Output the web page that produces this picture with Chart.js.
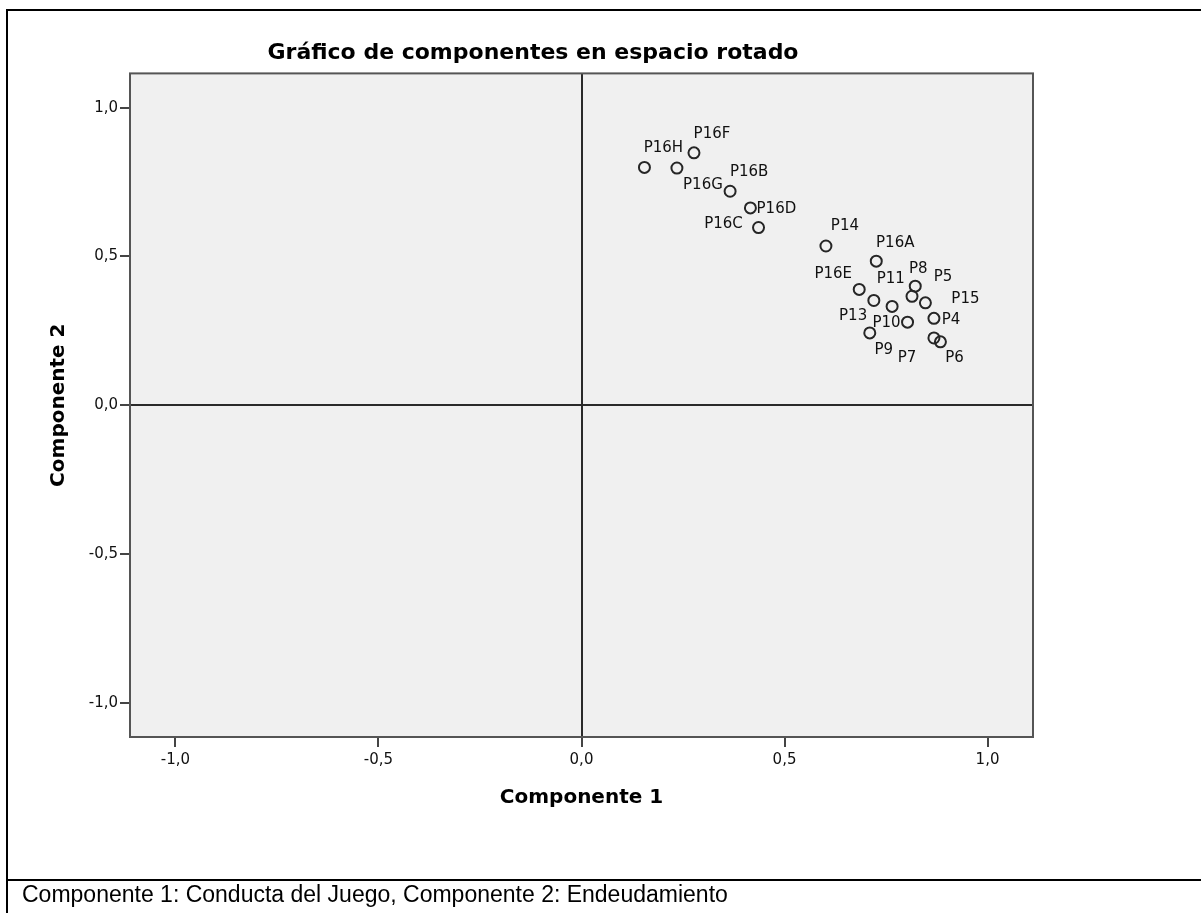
<!DOCTYPE html>
<html>
<head>
<meta charset="utf-8">
<script src="https://cdn.jsdelivr.net/npm/chart.js@4"></script>
<style>
  body { margin: 0; background: #fff; }
  #wrap { position: absolute; left: 0; top: 0; width: 1201px; height: 913px; }
  #frame { position: absolute; left: 6px; top: 9px; width: 1201px; height: 913px;
           border-left: 2px solid #000; border-top: 2px solid #000; pointer-events: none; }
  #rule { position: absolute; left: 6px; top: 879px; width: 1201px; height: 2px; background: #000; }
  #note { position: absolute; left: 22px; top: 883px; font-family: "Liberation Sans", Arial, sans-serif;
          font-size: 23px; line-height: 23px; color: #000; white-space: nowrap; }
</style>
</head>
<body>
<div id="wrap"><canvas id="componentChart"></canvas></div>
<div id="frame"></div>
<div id="rule"></div>
<div id="note">Componente 1: Conducta del Juego, Componente 2: Endeudamiento</div>
<script>
const names = ['P16H', 'P16G', 'P16F', 'P16B', 'P16D', 'P16C', 'P14', 'P16A', 'P16E', 'P11',
               'P8', 'P5', 'P15', 'P4', 'P13', 'P10', 'P9', 'P7', 'P6'];
const comp1 = [0.155, 0.235, 0.277, 0.366, 0.416, 0.436, 0.602, 0.726, 0.684, 0.720,
               0.822, 0.814, 0.847, 0.868, 0.765, 0.803, 0.710, 0.868, 0.884];
const comp2 = [0.799, 0.797, 0.848, 0.719, 0.663, 0.597, 0.535, 0.484, 0.389, 0.352,
               0.400, 0.366, 0.344, 0.292, 0.332, 0.279, 0.243, 0.226, 0.213];
const tickValues = [-1.0, -0.5, 0.0, 0.5, 1.0];

// where each point name sits relative to its marker (px)
const labelOffsets = {
  P16H: [19, -19], P16G: [26, 17], P16F: [18, -19], P16B: [19, -19], P16D: [26, 1],
  P16C: [-35, -3], P14: [19, -20], P16A: [19, -18], P16E: [-26, -15], P11: [17, -21],
  P8: [3, -17], P5: [31, -19], P15: [40, -4], P4: [17, 2], P13: [-39, 10],
  P10: [-21, 1], P9: [14, 17], P7: [-27, 20], P6: [14, 16]
};

const points = names.map((n, i) => ({x: comp1[i], y: comp2[i]}));
const fmt = v => v.toFixed(1).replace('.', ',');
const zeroColor = c => (c.tick && Math.abs(c.tick.value) < 1e-9) ? '#2a2a2a' : 'rgba(0,0,0,0)';

const plotBox = {
  id: 'plotBox',
  beforeDraw(chart) {
    const {ctx, chartArea: a} = chart;
    ctx.save();
    ctx.fillStyle = '#f0f0f0';
    ctx.fillRect(a.left, a.top, a.right - a.left, a.bottom - a.top);
    ctx.restore();
  },
  afterDatasetsDraw(chart) {
    const {ctx, chartArea: a} = chart;
    const meta = chart.getDatasetMeta(0);
    ctx.save();
    ctx.font = '15px "DejaVu Sans"';
    ctx.fillStyle = '#111';
    ctx.textAlign = 'center';
    ctx.textBaseline = 'middle';
    meta.data.forEach((el, i) => {
      const o = labelOffsets[names[i]] || [18, -18];
      ctx.fillText(names[i], el.x + o[0], el.y + o[1]);
    });
    ctx.strokeStyle = '#555';
    ctx.lineWidth = 2;
    ctx.strokeRect(a.left, a.top, a.right - a.left, a.bottom - a.top);
    ctx.restore();
  }
};

const tickFont = {family: 'DejaVu Sans', size: 15};
const titleFont = {family: 'DejaVu Sans', size: 20, weight: 'bold'};

const ctx = document.getElementById('componentChart');
const myChart = new Chart(ctx, {
  type: 'scatter',
  data: {
    datasets: [{
      label: 'Componentes',
      data: points,
      pointStyle: 'circle',
      pointRadius: 5.5,
      pointBorderWidth: 2,
      borderColor: '#262626',
      backgroundColor: 'rgba(0,0,0,0)'
    }]
  },
  options: {
    responsive: true,
    maintainAspectRatio: false,
    animation: false,
    layout: { padding: { top: 11, left: 33, right: 168, bottom: 33 } },
    plugins: {
      legend: { display: false },
      tooltip: { enabled: false },
      title: {
        display: true,
        text: 'Gráfico de componentes en espacio rotado',
        color: '#000',
        font: {family: 'DejaVu Sans', size: 22, weight: 'bold'},
        padding: { top: 29, bottom: 7 }
      }
    },
    scales: {
      x: {
        type: 'linear',
        min: -1.112,
        max: 1.112,
        afterFit: s => { s.height = 143; },
        border: { display: false },
        grid: { color: zeroColor, lineWidth: 2, tickColor: '#444', tickWidth: 2, tickLength: 10 },
        ticks: {
          stepSize: 0.5,
          includeBounds: false,
          padding: 4,
          color: '#111',
          font: tickFont,
          callback: v => tickValues.includes(Math.round(v * 10) / 10) ? fmt(v) : ''
        },
        title: { display: true, text: 'Componente 1', color: '#000', font: titleFont, padding: { bottom: 70 } }
      },
      y: {
        type: 'linear',
        min: -1.115,
        max: 1.115,
        afterFit: s => { s.width = 97; },
        border: { display: false },
        grid: { color: zeroColor, lineWidth: 2, tickColor: '#444', tickWidth: 2, tickLength: 10 },
        ticks: {
          stepSize: 0.5,
          includeBounds: false,
          padding: 2,
          color: '#111',
          font: tickFont,
          callback: v => tickValues.includes(Math.round(v * 10) / 10) ? fmt(v) : ''
        },
        title: { display: true, text: 'Componente 2', color: '#000', font: titleFont, padding: { top: 14 } }
      }
    }
  },
  plugins: [plotBox]
});
</script>
</body>
</html>
